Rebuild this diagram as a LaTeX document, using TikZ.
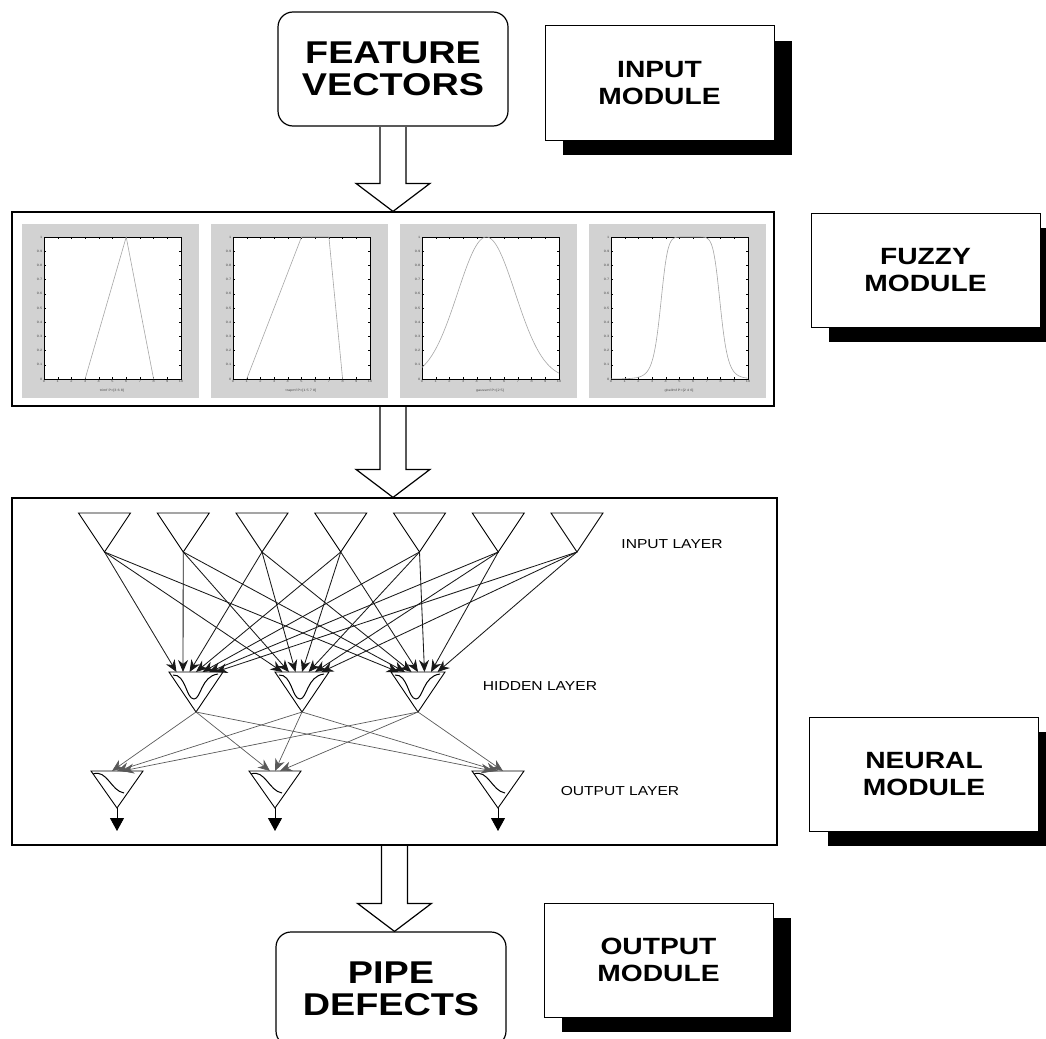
\documentclass[tikz,border=0pt]{standalone}
\usepackage{fontspec}
\newfontfamily\arialx[FakeStretch=1.2]{Liberation Sans}
\usepackage{tikz}
\usetikzlibrary{arrows.meta,positioning,calc,shadows}

\tikzset{
  bigtext/.style={font=\arialx\bfseries\fontsize{31.5}{32.5}\selectfont, align=center},
  endbox/.style={draw, line width=1.2pt, rounded corners=15pt, minimum width=230pt, minimum height=114pt, bigtext},
  modbox/.style={draw, line width=1pt, fill=white, minimum width=229pt, minimum height=114pt,
    font=\arialx\bfseries\fontsize{23.5}{27}\selectfont, align=center,
    drop shadow={shadow xshift=18pt, shadow yshift=-15pt, opacity=1, fill=black}},
  panelbox/.style={draw, line width=1.2pt},
  layerlbl/.style={font=\arialx\fontsize{13}{15}\selectfont},
  neuron/.style={line width=0.9pt},
  synapse/.style={line width=0.85pt, black!90, -{Stealth[length=12pt,width=10pt]}},
  synapse2/.style={line width=0.7pt, black!65, -{Stealth[length=12pt,width=10pt]}},
  mfcurve/.style={gray!70, line width=0.6pt},
  ticklbl/.style={font=\arialx\fontsize{3.2}{3.2}\selectfont, inner sep=0.5pt, text=black!70}
}

% hollow block arrow between two boxes
\newcommand{\hollowarrow}[2]{%
  \draw[line width=1.2pt, fill=white] let \p1=(#1.south), \p2=(#2.north) in
    (\x1-13pt,\y1-0.6pt) -- (\x1-13pt,\y2+28pt) -- (\x1-37pt,\y2+28pt) -- (\x1,\y2)
    -- (\x1+37pt,\y2+28pt) -- (\x1+13pt,\y2+28pt) -- (\x1+13pt,\y1-0.6pt);}

\begin{document}
\begin{tikzpicture}[x=1pt, y=-1pt]
\useasboundingbox (0,0) rectangle (1046,1038);

% input / output
\node[endbox] (fv) at (393,69) {FEATURE\\VECTORS};
\node[endbox] (pipe) at (391,989) {PIPE\\DEFECTS};

% module labels
\node[modbox] (inmod) at (659.5,83) {INPUT\\MODULE};
\node[modbox] (fuzmod) at (925.5,270) {FUZZY\\MODULE};
\node[modbox] (neumod) at (924,774) {NEURAL\\MODULE};
\node[modbox] (outmod) at (658.5,960) {OUTPUT\\MODULE};

% fuzzy module: membership functions
\node[panelbox, minimum width=762pt, minimum height=194pt] (fuzzy) at (393,309) {};
\foreach \p/\lbl in {0/{trimf P=[3 6 8]}, 1/{trapmf P=[1 5 7 8]}, 2/{gaussmf P=[2 5]}, 3/{gbellmf P=[2 4 6]}} {
  \pgfmathsetmacro{\px}{22+189*\p}
  \fill[gray!35] (\px,224) rectangle ++(177,174);
  \draw[fill=white, line width=0.4pt] (\px+22,237) rectangle (\px+159,379);
  \foreach \t in {0,...,10} {
    \draw[line width=0.3pt] (\px+22+13.7*\t,379) -- ++(0,-2);
    \draw[line width=0.3pt] (\px+22+13.7*\t,237) -- ++(0,2);
    \node[ticklbl, below] (xt\p-\t) at (\px+22+13.7*\t,380) {\t};
  }
  \foreach \l [count=\t from 0] in {0,0.1,0.2,0.3,0.4,0.5,0.6,0.7,0.8,0.9,1} {
    \draw[line width=0.3pt] (\px+22,379-14.2*\t) -- ++(2,0);
    \draw[line width=0.3pt] (\px+159,379-14.2*\t) -- ++(-2,0);
    \node[ticklbl, left] (yt\p-\t) at (\px+21,379-14.2*\t) {\l};
  }
  \node[ticklbl] (mf\p) at (\px+90,391) {\lbl};
}
\begin{scope}[shift={(44,379)}, x=13.7pt, y=142pt]
  \draw[mfcurve] (3,0) -- (6,1) -- (8,0);
\end{scope}
\begin{scope}[shift={(233,379)}, x=13.7pt, y=142pt]
  \draw[mfcurve] (1,0) -- (5,1) -- (7,1) -- (8,0);
\end{scope}
\begin{scope}[shift={(422,379)}, x=13.7pt, y=142pt]
  \draw[mfcurve] plot[domain=0:10, samples=80, smooth] (\x, {exp(-(\x-4.7)*(\x-4.7)/8.82)});
\end{scope}
\begin{scope}[shift={(611,379)}, x=13.7pt, y=142pt]
  \draw[mfcurve] plot[domain=0:10, samples=120, smooth] (\x, {1/(1+abs((\x-5.8)/2.2)^8)});
\end{scope}

% neural module
\node[panelbox, minimum width=765pt, minimum height=347pt] (neural) at (394.5,671.5) {};

% input layer
\foreach \i in {1,...,7} {
  \pgfmathsetmacro{\cx}{104.5+78.75*(\i-1)}
  \draw[neuron] (\cx-26,513) -- (\cx+26,513) -- (\cx,552) -- cycle;
  \coordinate (in\i) at (\cx,552);
}
% hidden layer
\foreach \j/\cx in {1/196,2/302,3/418} {
  \draw[neuron] (\cx-27,672) -- (\cx+27,672) -- (\cx,712) -- cycle;
  \coordinate (hid\j-top) at (\cx,672);
  \coordinate (hid\j) at (\cx,712);
  \begin{scope}[shift={(\cx,672)}]
    \draw[line width=1pt] (-23,3) .. controls (-10,2) and (-10,27) .. (-2,27)
      .. controls (5,27) and (5,4) .. (22,2);
  \end{scope}
}
% output layer
\foreach \k/\cx in {1/117,2/275,3/498} {
  \draw[neuron] (\cx-26,771) -- (\cx+26,771) -- (\cx,808) -- cycle;
  \coordinate (out\k-top) at (\cx,771);
  \coordinate (out\k) at (\cx,808);
  \coordinate (out\k-end) at (\cx,831);
  \begin{scope}[shift={(\cx,771)}]
    \draw[line width=1pt] (-24,3) .. controls (-10,-2) and (-6,20) .. (7,22);
  \end{scope}
  \draw[line width=0.9pt, -{Triangle[length=13pt,width=14pt]}] (out\k) -- (out\k-end);
}

% connections
\foreach \i in {1,...,7}
  \foreach \j in {1,2,3}
    \draw[synapse] (in\i) -- ([xshift={(\i-4)*6.5}]hid\j-top);
\foreach \j in {1,2,3}
  \foreach \k in {1,2,3}
    \draw[synapse2] (hid\j) -- ([xshift={(\j-2)*5}]out\k-top);

\node[layerlbl] (inlbl) at (672,544) {INPUT LAYER};
\node[layerlbl] (hidlbl) at (540,686) {HIDDEN LAYER};
\node[layerlbl] (outlbl) at (620,791) {OUTPUT LAYER};

% flow between modules
\hollowarrow{fv}{fuzzy}
\hollowarrow{fuzzy}{neural}
\hollowarrow{neural}{pipe}
\end{tikzpicture}
\end{document}
